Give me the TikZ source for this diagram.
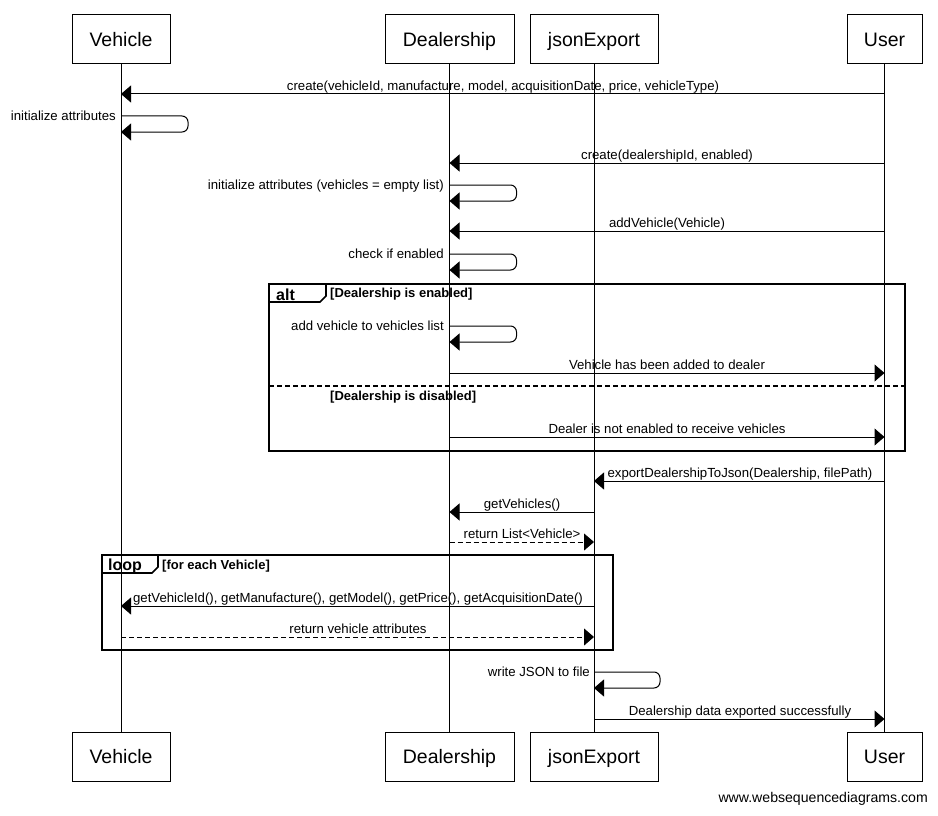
\documentclass[tikz,border=0pt]{standalone}
\usepackage{fontspec}
\setmainfont{Liberation Sans}
\usetikzlibrary{arrows.meta}
\begin{document}
\begin{tikzpicture}[x=1pt,y=-1pt,
  part/.style={draw,line width=1pt,minimum height=49pt,inner sep=0pt,text height=14pt,text depth=0pt,font=\fontsize{19.5}{22}\selectfont},
  life/.style={line width=1pt},
  msg/.style={line width=1pt,-{Triangle[length=10pt,width=17pt]}},
  ret/.style={msg,dash pattern=on 5pt off 3pt},
  selfmsg/.style={msg,rounded corners=6pt},
  lbl/.style={anchor=base,inner sep=0pt,font=\fontsize{13.2}{15}\selectfont},
  slbl/.style={anchor=base east,inner sep=0pt,font=\fontsize{13.2}{15}\selectfont},
  frame/.style={line width=1.6pt},
  tag/.style={anchor=base west,inner sep=0pt,font=\fontsize{16}{18}\selectfont\bfseries},
  guard/.style={anchor=base west,inner sep=0pt,font=\fontsize{13}{15}\selectfont\bfseries}]
\useasboundingbox (0,0) rectangle (938,816);

% participants, top and bottom
\node[part,minimum width=98pt]  (vehT) at (121,39.5) {Vehicle};
\node[part,minimum width=129pt] (dlrT) at (449.5,39.5) {Dealership};
\node[part,minimum width=128pt] (jsnT) at (594,39.5) {jsonExport};
\node[part,minimum width=75pt]  (usrT) at (884.5,39.5) {User};
\node[part,minimum width=98pt]  (vehB) at (121,756.5) {Vehicle};
\node[part,minimum width=129pt] (dlrB) at (449.5,756.5) {Dealership};
\node[part,minimum width=128pt] (jsnB) at (594,756.5) {jsonExport};
\node[part,minimum width=75pt]  (usrB) at (884.5,756.5) {User};

% lifelines
\draw[life] (vehT) -- (vehB);
\draw[life] (dlrT) -- (dlrB);
\draw[life] (jsnT) -- (jsnB);
\draw[life] (usrT) -- (usrB);

% object creation
\draw[msg] (usrT.south |- 0,94) -- (vehT.south |- 0,94);
\node[lbl] (m1) at (503,90.5) {create(vehicleId, manufacture, model, acquisitionDate, price, vehicleType)};
\draw[selfmsg] (vehT.south |- 0,116) -- ++(67,0) -- ++(0,16) -- (vehT.south |- 0,132);
\node[slbl] (m2) at (116,120.5) {initialize attributes};

\draw[msg] (usrT.south |- 0,163) -- (dlrT.south |- 0,163);
\node[lbl] (m3) at (667,159.5) {create(dealershipId, enabled)};
\draw[selfmsg] (dlrT.south |- 0,185) -- ++(67,0) -- ++(0,16) -- (dlrT.south |- 0,201);
\node[slbl] (m4) at (444,189.5) {initialize attributes (vehicles = empty list)};

\draw[msg] (usrT.south |- 0,231) -- (dlrT.south |- 0,231);
\node[lbl] (m5) at (667,227.5) {addVehicle(Vehicle)};
\draw[selfmsg] (dlrT.south |- 0,254) -- ++(67,0) -- ++(0,16) -- (dlrT.south |- 0,270);
\node[slbl] (m6) at (444,258.5) {check if enabled};

% alt fragment
\draw[frame] (269,284) rectangle (905,451);
\draw[frame] (269,302) -- (320,302) -- (326,296) -- (326,284);
\node[tag] (altT) at (276,300) {alt};
\node[guard] (g1) at (330,297) {[Dealership is enabled]};
\draw[selfmsg] (dlrT.south |- 0,326) -- ++(67,0) -- ++(0,16) -- (dlrT.south |- 0,342);
\node[slbl] (m7) at (444,330.5) {add vehicle to vehicles list};
\draw[msg] (dlrT.south |- 0,373) -- (usrT.south |- 0,373);
\node[lbl] (m8) at (667,369.5) {Vehicle has been added to dealer};
\draw[frame,dash pattern=on 5pt off 3pt] (269,386) -- (905,386);
\node[guard] (g2) at (330,400) {[Dealership is disabled]};
\draw[msg] (dlrT.south |- 0,437) -- (usrT.south |- 0,437);
\node[lbl] (m9) at (667,433.5) {Dealer is not enabled to receive vehicles};

% export
\draw[msg] (usrT.south |- 0,481) -- (jsnT.south |- 0,481);
\node[lbl] (m10) at (740,477.5) {exportDealershipToJson(Dealership, filePath)};
\draw[msg] (jsnT.south |- 0,512) -- (dlrT.south |- 0,512);
\node[lbl] (m11) at (522,508.5) {getVehicles()};
\draw[ret] (dlrT.south |- 0,542) -- (jsnT.south |- 0,542);
\node[lbl] (m12) at (522,538.5) {return List<Vehicle>};

% loop fragment
\draw[frame] (102,555) rectangle (613,650);
\draw[frame] (102,573) -- (152,573) -- (158,567) -- (158,555);
\node[tag] (loopT) at (108,570) {loop};
\node[guard] (g3) at (162,569) {[for each Vehicle]};
\draw[msg] (jsnT.south |- 0,606) -- (vehT.south |- 0,606);
\node[lbl] (m13) at (358,602.5) {getVehicleId(), getManufacture(), getModel(), getPrice(), getAcquisitionDate()};
\draw[ret] (vehT.south |- 0,637) -- (jsnT.south |- 0,637);
\node[lbl] (m14) at (358,633.5) {return vehicle attributes};

\draw[selfmsg] (jsnT.south |- 0,672) -- ++(66,0) -- ++(0,16) -- (jsnT.south |- 0,688);
\node[slbl] (m15) at (590,676.5) {write JSON to file};
\draw[msg] (jsnT.south |- 0,719) -- (usrT.south |- 0,719);
\node[lbl] (m16) at (740,715.5) {Dealership data exported successfully};

\node[anchor=base east,inner sep=0pt,font=\fontsize{14.1}{16}\selectfont] (site) at (928,802.5) {www.websequencediagrams.com};
\end{tikzpicture}
\end{document}
